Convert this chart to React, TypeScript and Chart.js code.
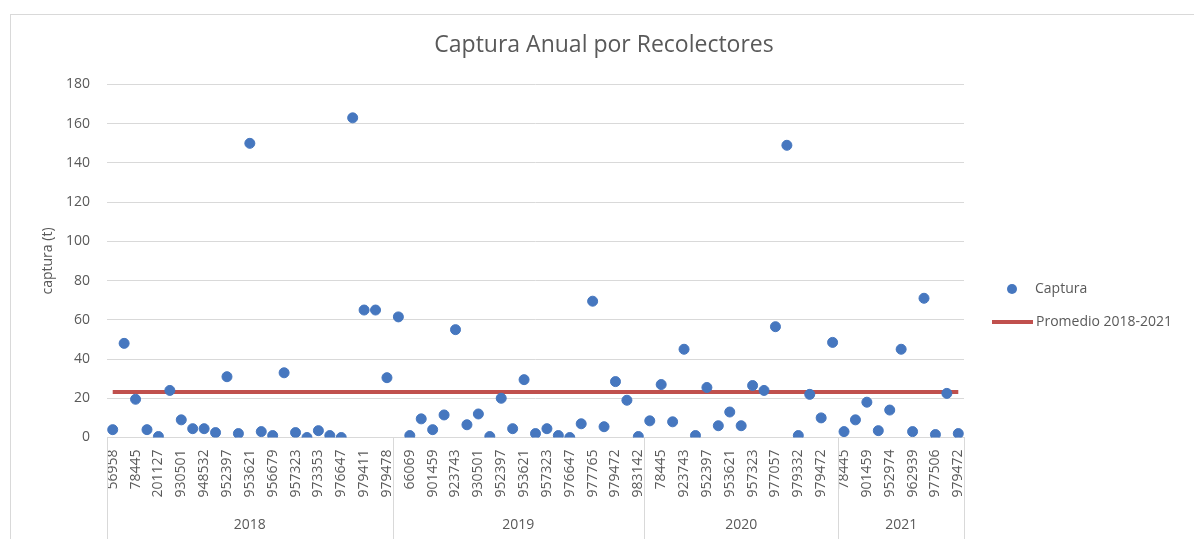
import { useEffect, useRef } from 'react';
import { Chart, registerables } from 'chart.js';

Chart.register(...registerables);

const FONT = "'Open Sans', 'Liberation Sans', sans-serif";
const TEXT = '#595959';
const GRID = '#d9d9d9';
const BLUE = '#4677BF';
const RED = '#C0504D';

const chartTitle = 'Captura Anual por Recolectores';
const yAxisTitle = 'captura (t)';
const seriesCaptura = 'Captura';
const seriesPromedio = 'Promedio 2018-2021';

const years = ['2018', '2019', '2020', '2021'];
const yearCounts = [25, 22, 17, 11];

// Recolector IDs; only every second label is legible in the source ("" = not shown)
const recolectores = [
  // 2018
  '56958', '', '78445', '', '201127', '', '930501', '', '948532', '', '952397', '', '953621', '',
  '956679', '', '957323', '', '973353', '', '976647', '', '979411', '', '979478',
  // 2019
  '', '66069', '', '901459', '', '923743', '', '930501', '', '952397', '', '953621', '', '957323',
  '', '976647', '', '977765', '', '979472', '', '983142',
  // 2020
  '', '78445', '', '923743', '', '952397', '', '953621', '', '957323', '', '977057', '', '979332',
  '', '979472', '',
  // 2021
  '78445', '', '901459', '', '952974', '', '962939', '', '977506', '', '979472',
];

const captura2018 = [4, 48, 19.5, 4, 0.5, 24, 9, 4.5, 4.5, 2.5, 31, 2, 150, 3, 1, 33, 2.5, 0, 3.5, 1, 0, 163, 65, 65, 30.5];
const captura2019 = [61.5, 1, 9.5, 4, 11.5, 55, 6.5, 12, 0.5, 20, 4.5, 29.5, 2, 4.5, 1, 0, 7, 69.5, 5.5, 28.5, 19, 0.5];
const captura2020 = [8.5, 27, 8, 45, 1, 25.5, 6, 13, 6, 26.5, 24, 56.5, 149, 1, 22, 10, 48.5];
const captura2021 = [3, 9, 18, 3.5, 14, 45, 3, 71, 1.5, 22.5, 2];
const captura = [...captura2018, ...captura2019, ...captura2020, ...captura2021];

const promedio = 23.2;
const yMin = 0;
const yMax = 180;
const yStep = 20;

const decorPlugin = {
  id: 'decor',
  beforeDraw(chart: any) {
    const ctx = chart.ctx;
    ctx.save();
    ctx.fillStyle = '#ffffff';
    ctx.fillRect(0, 0, chart.width, chart.height);
    ctx.strokeStyle = GRID;
    ctx.lineWidth = 1;
    ctx.strokeRect(10.5, 14.5, chart.width + 10, chart.height + 10);
    // title
    ctx.fillStyle = TEXT;
    ctx.font = `23px ${FONT}`;
    ctx.textAlign = 'center';
    ctx.textBaseline = 'middle';
    ctx.fillText(chartTitle, 604, 45);
    ctx.restore();
  },
  afterDraw(chart: any) {
    const ctx = chart.ctx;
    const xs = chart.scales.x;
    ctx.save();
    // multi-level category axis: group separators and year labels
    ctx.strokeStyle = GRID;
    ctx.lineWidth = 1;
    const edges: number[] = [xs.left];
    let idx = 0;
    yearCounts.forEach((n, g) => {
      idx += n;
      if (g < yearCounts.length - 1) {
        edges.push((xs.getPixelForValue(idx - 1) + xs.getPixelForValue(idx)) / 2);
      } else {
        edges.push(xs.right);
      }
    });
    edges.forEach((e) => {
      const px = Math.round(e) + 0.5;
      ctx.beginPath();
      ctx.moveTo(px, xs.top);
      ctx.lineTo(px, chart.height);
      ctx.stroke();
    });
    ctx.fillStyle = TEXT;
    ctx.font = `14px ${FONT}`;
    ctx.textAlign = 'center';
    ctx.textBaseline = 'middle';
    years.forEach((y, i) => {
      ctx.fillText(y, (edges[i] + edges[i + 1]) / 2, 525);
    });

    // legend
    const ds = chart.data.datasets;
    ctx.textAlign = 'left';
    ctx.fillStyle = ds[0].backgroundColor;
    ctx.beginPath();
    ctx.arc(1012, 289, 5, 0, Math.PI * 2);
    ctx.fill();
    ctx.fillStyle = TEXT;
    ctx.fillText(ds[0].label, 1035, 289);
    ctx.strokeStyle = ds[1].borderColor;
    ctx.lineWidth = 4;
    ctx.beginPath();
    ctx.moveTo(992, 322);
    ctx.lineTo(1033, 322);
    ctx.stroke();
    ctx.fillText(ds[1].label, 1036, 322);
    ctx.restore();
  },
};

export default function App() {
  const ref = useRef<HTMLCanvasElement | null>(null);

  useEffect(() => {
    if (!ref.current) return;
    const chart = new Chart(ref.current, {
      type: 'line',
      data: {
        labels: recolectores,
        datasets: [
          {
            label: seriesCaptura,
            data: captura,
            showLine: false,
            backgroundColor: BLUE,
            borderColor: BLUE,
            pointRadius: 5,
            pointBorderWidth: 1,
            pointHoverRadius: 5,
          },
          {
            label: seriesPromedio,
            data: recolectores.map(() => promedio),
            borderColor: RED,
            backgroundColor: RED,
            borderWidth: 4,
            pointRadius: 0,
            pointHoverRadius: 0,
            fill: false,
          },
        ],
      },
      options: {
        animation: false,
        responsive: false,
        devicePixelRatio: 1,
        layout: { padding: { left: 0, right: 230, top: 84.5, bottom: 0 } },
        plugins: {
          legend: { display: false },
          tooltip: { enabled: false },
          title: { display: false },
        },
        scales: {
          x: {
            type: 'category',
            offset: true,
            grid: { display: false, drawTicks: false },
            border: { display: true, color: GRID, width: 1 },
            ticks: {
              autoSkip: false,
              minRotation: 90,
              maxRotation: 90,
              padding: 12,
              color: TEXT,
              font: { family: FONT, size: 14 },
              callback: (_v: any, i: number) => (i % 2 === 0 ? recolectores[i] : ''),
            },
            afterFit: (s: any) => {
              s.height = 101.5;
            },
          },
          y: {
            min: yMin,
            max: yMax,
            grid: { color: GRID, drawTicks: false, lineWidth: 1 },
            border: { display: false },
            ticks: {
              stepSize: yStep,
              padding: 17,
              color: TEXT,
              font: { family: FONT, size: 14 },
            },
            title: {
              display: true,
              text: yAxisTitle,
              color: TEXT,
              font: { family: FONT, size: 14 },
              padding: { top: 40, bottom: 0 },
            },
            afterFit: (s: any) => {
              s.width = 107;
            },
          },
        },
      },
      plugins: [decorPlugin],
    });
    return () => chart.destroy();
  }, []);

  return (
    <div style={{ position: 'absolute', left: 0, top: 0, width: 1194, height: 539 }}>
      <canvas ref={ref} width={1194} height={539} />
    </div>
  );
}
